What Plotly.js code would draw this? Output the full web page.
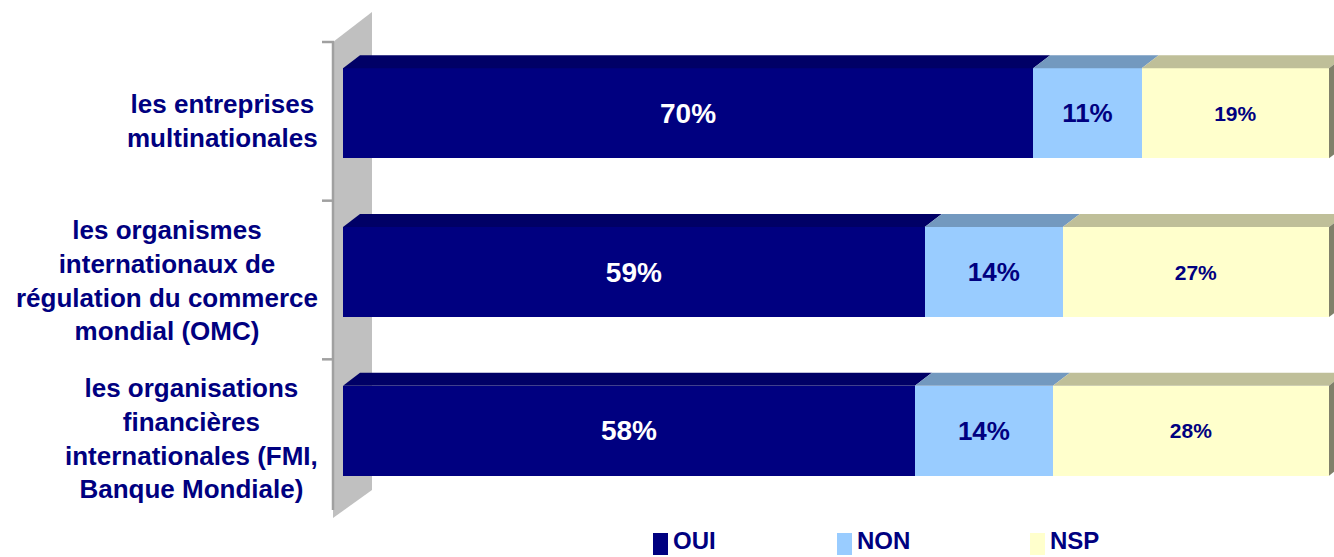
<!DOCTYPE html>
<html>
<head>
<meta charset="utf-8">
<script src="https://cdn.plot.ly/plotly-3.0.1.min.js"></script>
<style>html,body{margin:0;padding:0;background:#fff;}#chart{width:1334px;height:557px;}</style>
</head>
<body>
<div id="chart"></div>
<script>
// ---- data ----
const categories = [
  "les entreprises<br>multinationales",
  "les organismes<br>internationaux de<br>régulation du commerce<br>mondial (OMC)",
  "les organisations<br>financières<br>internationales (FMI,<br>Banque Mondiale)"
];
const seriesNames = ["OUI", "NON", "NSP"];
const oui = [70, 59, 58];
const non = [11, 14, 14];
const nsp = [19, 27, 28];

// ---- styling ----
const W = 1334, H = 557;
const M = {l: 343, r: 0, t: 34, b: 47};
const plotW = W - M.l - M.r, plotH = H - M.t - M.b;
const xMax = 100 * plotW / 986;
const pxPerX = plotW / xMax;
const pxPerY = plotH / 3;
const barW = 90 / pxPerY;
const dx = 17 / pxPerX, dy = 13 / pxPerY;
const navy = "#000080";
const colors = ["#000080", "#99ccff", "#ffffcc"];
const topColors = ["#000066", "#7399bf", "#bfbf99"];
const sideColor = "#80806a";
const yIdx = categories.map((c, i) => i);
const series = [oui, non, nsp];
const textColors = ["#ffffff", navy, navy];
const textSizes = [28, 26, 21];
const font = "Liberation Sans, Arial, sans-serif";

const px2x = px => (px - M.l) / plotW;
const py2y = py => (H - M.b - py) / plotH;

const traces = series.map((vals, s) => ({
  type: "bar",
  orientation: "h",
  name: seriesNames[s],
  y: yIdx,
  x: vals,
  width: barW,
  marker: {color: colors[s], line: {width: 0}},
  text: vals.map(v => v + "%"),
  textposition: "inside",
  insidetextanchor: "middle",
  textangle: 0,
  constraintext: "none",
  insidetextfont: {family: font, size: textSizes[s], color: textColors[s], weight: "bold"},
  showlegend: false,
  hoverinfo: "skip"
}));

const shapes = [];
// back wall (decoration)
shapes.push({
  type: "path", xref: "paper", yref: "paper", layer: "below",
  path: `M${px2x(333)},${py2y(42)} L${px2x(372)},${py2y(12)} L${px2x(372)},${py2y(490)} L${px2x(333)},${py2y(518)} Z`,
  fillcolor: "#c0c0c0", line: {width: 0}
});
// axis line
const axOff = 8 / pxPerY;
shapes.push({
  type: "line", xref: "paper", yref: "y", layer: "above",
  x0: px2x(333), x1: px2x(333), y0: -0.5 + axOff, y1: 2.5 + axOff,
  line: {color: "#a0a0a0", width: 2.5}
});
for (let k = 0; k <= categories.length; k++) {
  shapes.push({
    type: "line", xref: "paper", yref: "y", layer: "above",
    x0: px2x(322), x1: px2x(334), y0: k - 0.5 + axOff, y1: k - 0.5 + axOff,
    line: {color: "#a0a0a0", width: 2.5}
  });
}
// 3D top faces and right side
yIdx.forEach(i => {
  let a = 0;
  const yTop = i - barW / 2, yBot = i + barW / 2;
  series.forEach((vals, s) => {
    const b = a + vals[i];
    shapes.push({
      type: "path", xref: "x", yref: "y", layer: "above",
      path: `M${a},${yTop} L${a + dx},${yTop - dy} L${b + dx},${yTop - dy} L${b},${yTop} Z`,
      fillcolor: topColors[s], line: {width: 0}
    });
    a = b;
  });
  shapes.push({
    type: "path", xref: "x", yref: "y", layer: "above",
    path: `M${a},${yTop} L${a + dx},${yTop - dy} L${a + dx},${yBot - dy} L${a},${yBot} Z`,
    fillcolor: sideColor, line: {width: 0}
  });
});

const annotations = categories.map((c, i) => ({
  xref: "paper", yref: "y", x: px2x(320), y: i + axOff,
  xanchor: "right", yanchor: "middle", align: "center",
  text: c, showarrow: false,
  font: {family: font, size: 26, color: navy, weight: "bold"}
}));

// custom legend
const legendPos = [[653, 673], [837, 857], [1030, 1050]];
seriesNames.forEach((n, s) => {
  const [sx, tx] = legendPos[s];
  shapes.push({
    type: "rect", xref: "paper", yref: "paper",
    x0: px2x(sx), x1: px2x(sx + 15), y0: py2y(533), y1: py2y(555),
    fillcolor: colors[s], line: {width: 0}
  });
  annotations.push({
    xref: "paper", yref: "paper", x: px2x(tx - 1), y: py2y(540),
    xanchor: "left", yanchor: "middle", text: n, showarrow: false, borderpad: 0,
    font: {family: font, size: 24, color: navy, weight: "bold"}
  });
});

const layout = {
  width: W, height: H,
  margin: M,
  paper_bgcolor: "#ffffff", plot_bgcolor: "rgba(0,0,0,0)",
  barmode: "stack",
  bargap: 0,
  xaxis: {range: [0, xMax], visible: false, fixedrange: true},
  yaxis: {range: [2.5, -0.5], visible: false, fixedrange: true},
  showlegend: false,
  shapes: shapes,
  annotations: annotations,
  uniformtext: {mode: false}
};

Plotly.newPlot("chart", traces, layout, {staticPlot: true, displayModeBar: false});
</script>
</body>
</html>
